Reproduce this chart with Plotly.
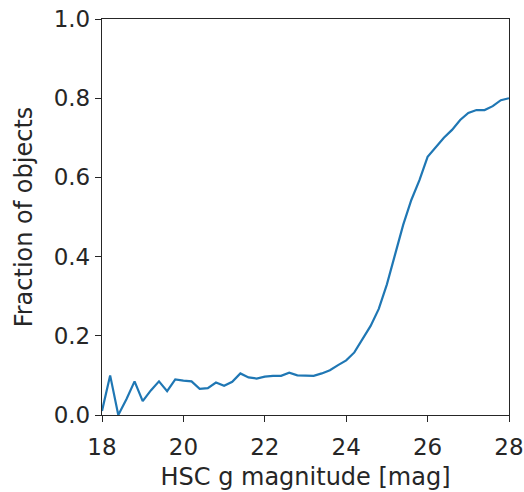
import plotly.graph_objects as go

magnitudes = [18.0, 18.2, 18.4, 18.6, 18.8, 19.0, 19.2, 19.4, 19.6, 19.8,
              20.0, 20.2, 20.4, 20.6, 20.8, 21.0, 21.2, 21.4, 21.6, 21.8,
              22.0, 22.2, 22.4, 22.6, 22.8, 23.0, 23.2, 23.4, 23.6, 23.8,
              24.0, 24.2, 24.4, 24.6, 24.8, 25.0, 25.2, 25.4, 25.6, 25.8,
              26.0, 26.2, 26.4, 26.6, 26.8, 27.0, 27.2, 27.4, 27.6, 27.8, 28.0]
fraction = [0.01, 0.10, 0.0, 0.04, 0.085, 0.035, 0.062, 0.085, 0.06, 0.09,
            0.087, 0.085, 0.066, 0.068, 0.082, 0.074, 0.084, 0.105, 0.095, 0.092,
            0.097, 0.099, 0.099, 0.107, 0.10, 0.099, 0.099, 0.105, 0.113, 0.126,
            0.138, 0.158, 0.19, 0.225, 0.268, 0.33, 0.405, 0.48, 0.543, 0.593,
            0.652, 0.675, 0.70, 0.72, 0.745, 0.763, 0.77, 0.77, 0.78, 0.795, 0.80]

x_ticks = [18, 20, 22, 24, 26, 28]
y_ticks = [0.0, 0.2, 0.4, 0.6, 0.8, 1.0]

fig = go.Figure()
fig.add_trace(go.Scatter(x=magnitudes, y=fraction, mode="lines",
                         line=dict(color="#1f77b4", width=2.2), showlegend=False))

axis_common = dict(showline=True, linecolor="#262626", linewidth=1.3, mirror=True,
                   ticks="outside", ticklen=6, tickwidth=1.3, tickcolor="#262626",
                   showgrid=False, zeroline=False, automargin=False,
                   ticklabeloverflow="allow",
                   tickfont=dict(family="DejaVu Sans", size=23, color="#262626"))

fig.update_layout(
    width=524, height=492,
    margin=dict(l=102, r=15, t=19, b=77),
    paper_bgcolor="white", plot_bgcolor="white",
    font=dict(family="DejaVu Sans", color="#262626"),
    xaxis=dict(range=[18, 28], tickvals=x_ticks, ticktext=[str(t) for t in x_ticks],
               ticklabelstandoff=5,
               title=dict(text="HSC g magnitude [mag]", font=dict(size=24), standoff=9),
               **axis_common),
    yaxis=dict(range=[0, 1], tickvals=y_ticks, ticktext=[f"{t:.1f}" for t in y_ticks],
               title=dict(text="Fraction of objects", font=dict(size=24), standoff=14),
               **axis_common),
)

fig.write_html("out.html", config={"displayModeBar": False},
               post_script="document.body.style.margin='0';document.body.style.overflow='hidden';")
